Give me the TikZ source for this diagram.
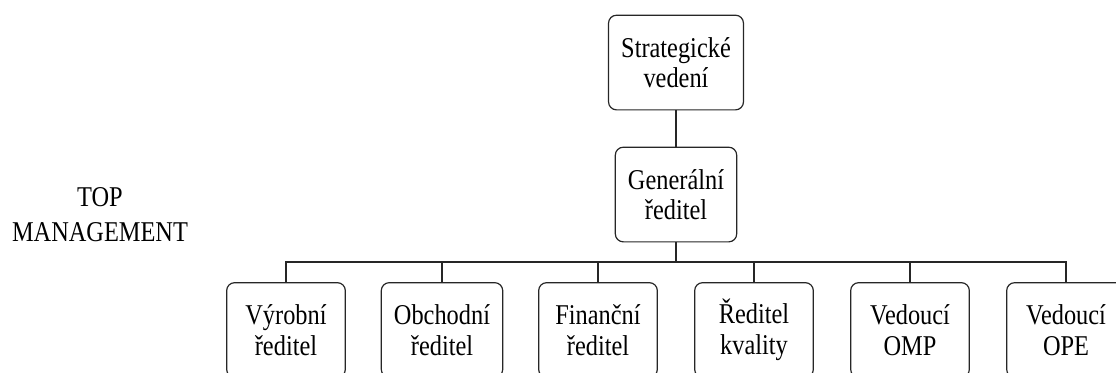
\documentclass[tikz,border=0pt]{standalone}
\usepackage{fontspec}
\setmainfont{Liberation Serif}[FakeStretch=0.85]
\tikzset{
  unit/.style={draw=black!85, line width=0.9pt, rounded corners=6pt,
    align=center, minimum width=89pt, minimum height=71pt, inner xsep=9.5pt,
    font=\fontsize{21.5}{23}\selectfont},
  rule/.style={draw=black!85, line width=0.9pt}
}
\begin{document}
\begin{tikzpicture}[level 1/.style={level distance=99pt},
    level 2/.style={level distance=101.6pt, sibling distance=117pt},
    every child node/.style={unit},
    edge from parent/.style={rule},
    edge from parent path={(\tikzparentnode.south) |- ([yshift=15pt]\tikzchildnode.north) -- (\tikzchildnode.north)}]
    \path[use as bounding box, clip] (0,0) rectangle (837pt,-279pt);
    \node[align=center, font=\fontsize{21.5}{26}\selectfont] (top) at (75pt,-161pt) {TOP\\MANAGEMENT};
    \node[unit] (strat) at (507pt,-46.9pt) {Strategické\\vedení}
      child {node (gen) {Generální\\ředitel}
        child {node (vyr) {Výrobní\\ředitel}}
        child {node (obch) {Obchodní\\ředitel}}
        child {node (fin) {Finanční\\ředitel}}
        child {node (kval) {Ředitel\\kvality}}
        child {node (omp) {Vedoucí\\OMP}}
        child {node (ope) {Vedoucí\\OPE}}
      };
\end{tikzpicture}
\end{document}
